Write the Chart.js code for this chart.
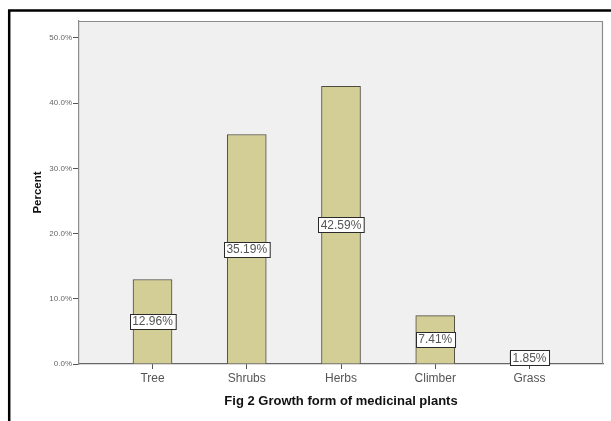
<!DOCTYPE html>
<html>
<head>
<meta charset="utf-8">
<script src="https://cdn.jsdelivr.net/npm/chart.js@4/dist/chart.umd.min.js"></script>
<style>
  html, body { margin: 0; padding: 0; background: #fff; }
  #wrap { width: 611px; height: 421px; position: relative; }
</style>
</head>
<body>
<div id="wrap"><canvas id="c" width="611" height="421"></canvas></div>
<script>
// Growth form categories and their share of species (percent)
const categories = ['Tree', 'Shrubs', 'Herbs', 'Climber', 'Grass'];
const percents = [12.96, 35.19, 42.59, 7.41, 1.85];
const yTicks = [0, 10, 20, 30, 40, 50];
const yTitle = 'Percent';
const xTitle = 'Fig 2 Growth form of medicinal plants';

const FONT = 'Arial, "Liberation Sans", sans-serif';

// Page frame, plot background and plot outline
const framePlugin = {
  id: 'frame',
  beforeDraw(chart) {
    const { ctx, chartArea: a } = chart;
    ctx.save();
    ctx.fillStyle = '#ffffff';
    ctx.fillRect(0, 0, chart.width, chart.height);
    ctx.fillStyle = '#f0f0f0';
    ctx.fillRect(a.left, a.top, a.right - a.left, a.bottom - a.top);
    ctx.strokeStyle = '#000000';
    ctx.lineWidth = 2.5;
    ctx.beginPath();
    ctx.moveTo(8, 10.5);
    ctx.lineTo(chart.width, 10.5);
    ctx.moveTo(9.2, 9.5);
    ctx.lineTo(9.2, chart.height);
    ctx.stroke();
    ctx.restore();
  },
  afterDatasetsDraw(chart) {
    const { ctx, chartArea: a } = chart;
    ctx.save();
    ctx.strokeStyle = '#8c8c8c';
    ctx.lineWidth = 1.2;
    ctx.beginPath();
    ctx.moveTo(a.left, a.top + 0.5);
    ctx.lineTo(a.right - 0.5, a.top + 0.5);
    ctx.lineTo(a.right - 0.5, a.bottom);
    ctx.stroke();
    ctx.restore();
  }
};

// Boxed percentage label in the middle of each bar
const barLabelPlugin = {
  id: 'barLabels',
  afterDatasetsDraw(chart) {
    const { ctx } = chart;
    const meta = chart.getDatasetMeta(0);
    ctx.save();
    ctx.font = '12px ' + FONT;
    ctx.textAlign = 'center';
    ctx.textBaseline = 'middle';
    meta.data.forEach((bar, i) => {
      const text = percents[i].toFixed(2) + '%';
      const mid = (bar.y + bar.base) / 2;
      const w = ctx.measureText(text).width + 5;
      const h = 15;
      const x0 = Math.round(bar.x - w / 2) + 0.5;
      const y0 = Math.round(mid - h / 2) + 0.5;
      ctx.fillStyle = '#ffffff';
      ctx.fillRect(x0, y0, w, h);
      ctx.strokeStyle = '#2a2a2a';
      ctx.lineWidth = 1;
      ctx.strokeRect(x0, y0, w, h);
      ctx.fillStyle = '#555555';
      ctx.fillText(text, bar.x, mid + 0.5);
    });
    ctx.restore();
  }
};

new Chart(document.getElementById('c'), {
  type: 'bar',
  data: {
    datasets: [{
      data: percents.map((v, i) => ({ x: i, y: v })),
      backgroundColor: '#d3cd96',
      borderColor: '#4c4b40',
      borderWidth: 1,
      barThickness: 39
    }]
  },
  options: {
    responsive: false,
    animation: false,
    devicePixelRatio: 1,
    layout: { padding: { top: 21, right: 8, left: 0, bottom: 0 } },
    plugins: {
      legend: { display: false },
      tooltip: { enabled: false }
    },
    scales: {
      x: {
        type: 'linear',
        offset: false,
        min: -0.78,
        max: 4.78,
        afterBuildTicks(s) { s.ticks = categories.map((_, i) => ({ value: i })); },
        afterFit(s) { s.height = 57; },
        grid: { display: true, offset: false, drawOnChartArea: false, drawTicks: true, tickLength: 5, color: '#555' },
        border: { display: true, color: '#666', width: 1.2 },
        ticks: {
          padding: 2,
          color: '#555',
          font: { family: FONT, size: 12 },
          autoSkip: false,
          maxRotation: 0,
          callback: (v) => categories[v] !== undefined ? categories[v] : ''
        },
        title: {
          display: true,
          text: xTitle,
          color: '#111',
          font: { family: FONT, size: 13, weight: 'bold' },
          padding: { top: 0, bottom: 12 }
        }
      },
      y: {
        min: 0,
        max: 52.6,
        afterBuildTicks(s) { s.ticks = yTicks.map(v => ({ value: v })); },
        afterFit(s) { s.width = 79; },
        grid: { display: true, drawOnChartArea: false, drawTicks: true, tickLength: 6, color: '#555' },
        border: { display: true, color: '#8c8c8c', width: 1.2 },
        ticks: {
          padding: 1,
          color: '#666',
          font: { family: FONT, size: 8 },
          callback: (v) => v.toFixed(1) + '%'
        },
        title: {
          display: true,
          text: yTitle,
          color: '#111',
          font: { family: FONT, size: 11.5, weight: 'bold' },
          padding: { top: 31, bottom: 0 }
        }
      }
    }
  },
  plugins: [framePlugin, barLabelPlugin]
});
</script>
</body>
</html>
